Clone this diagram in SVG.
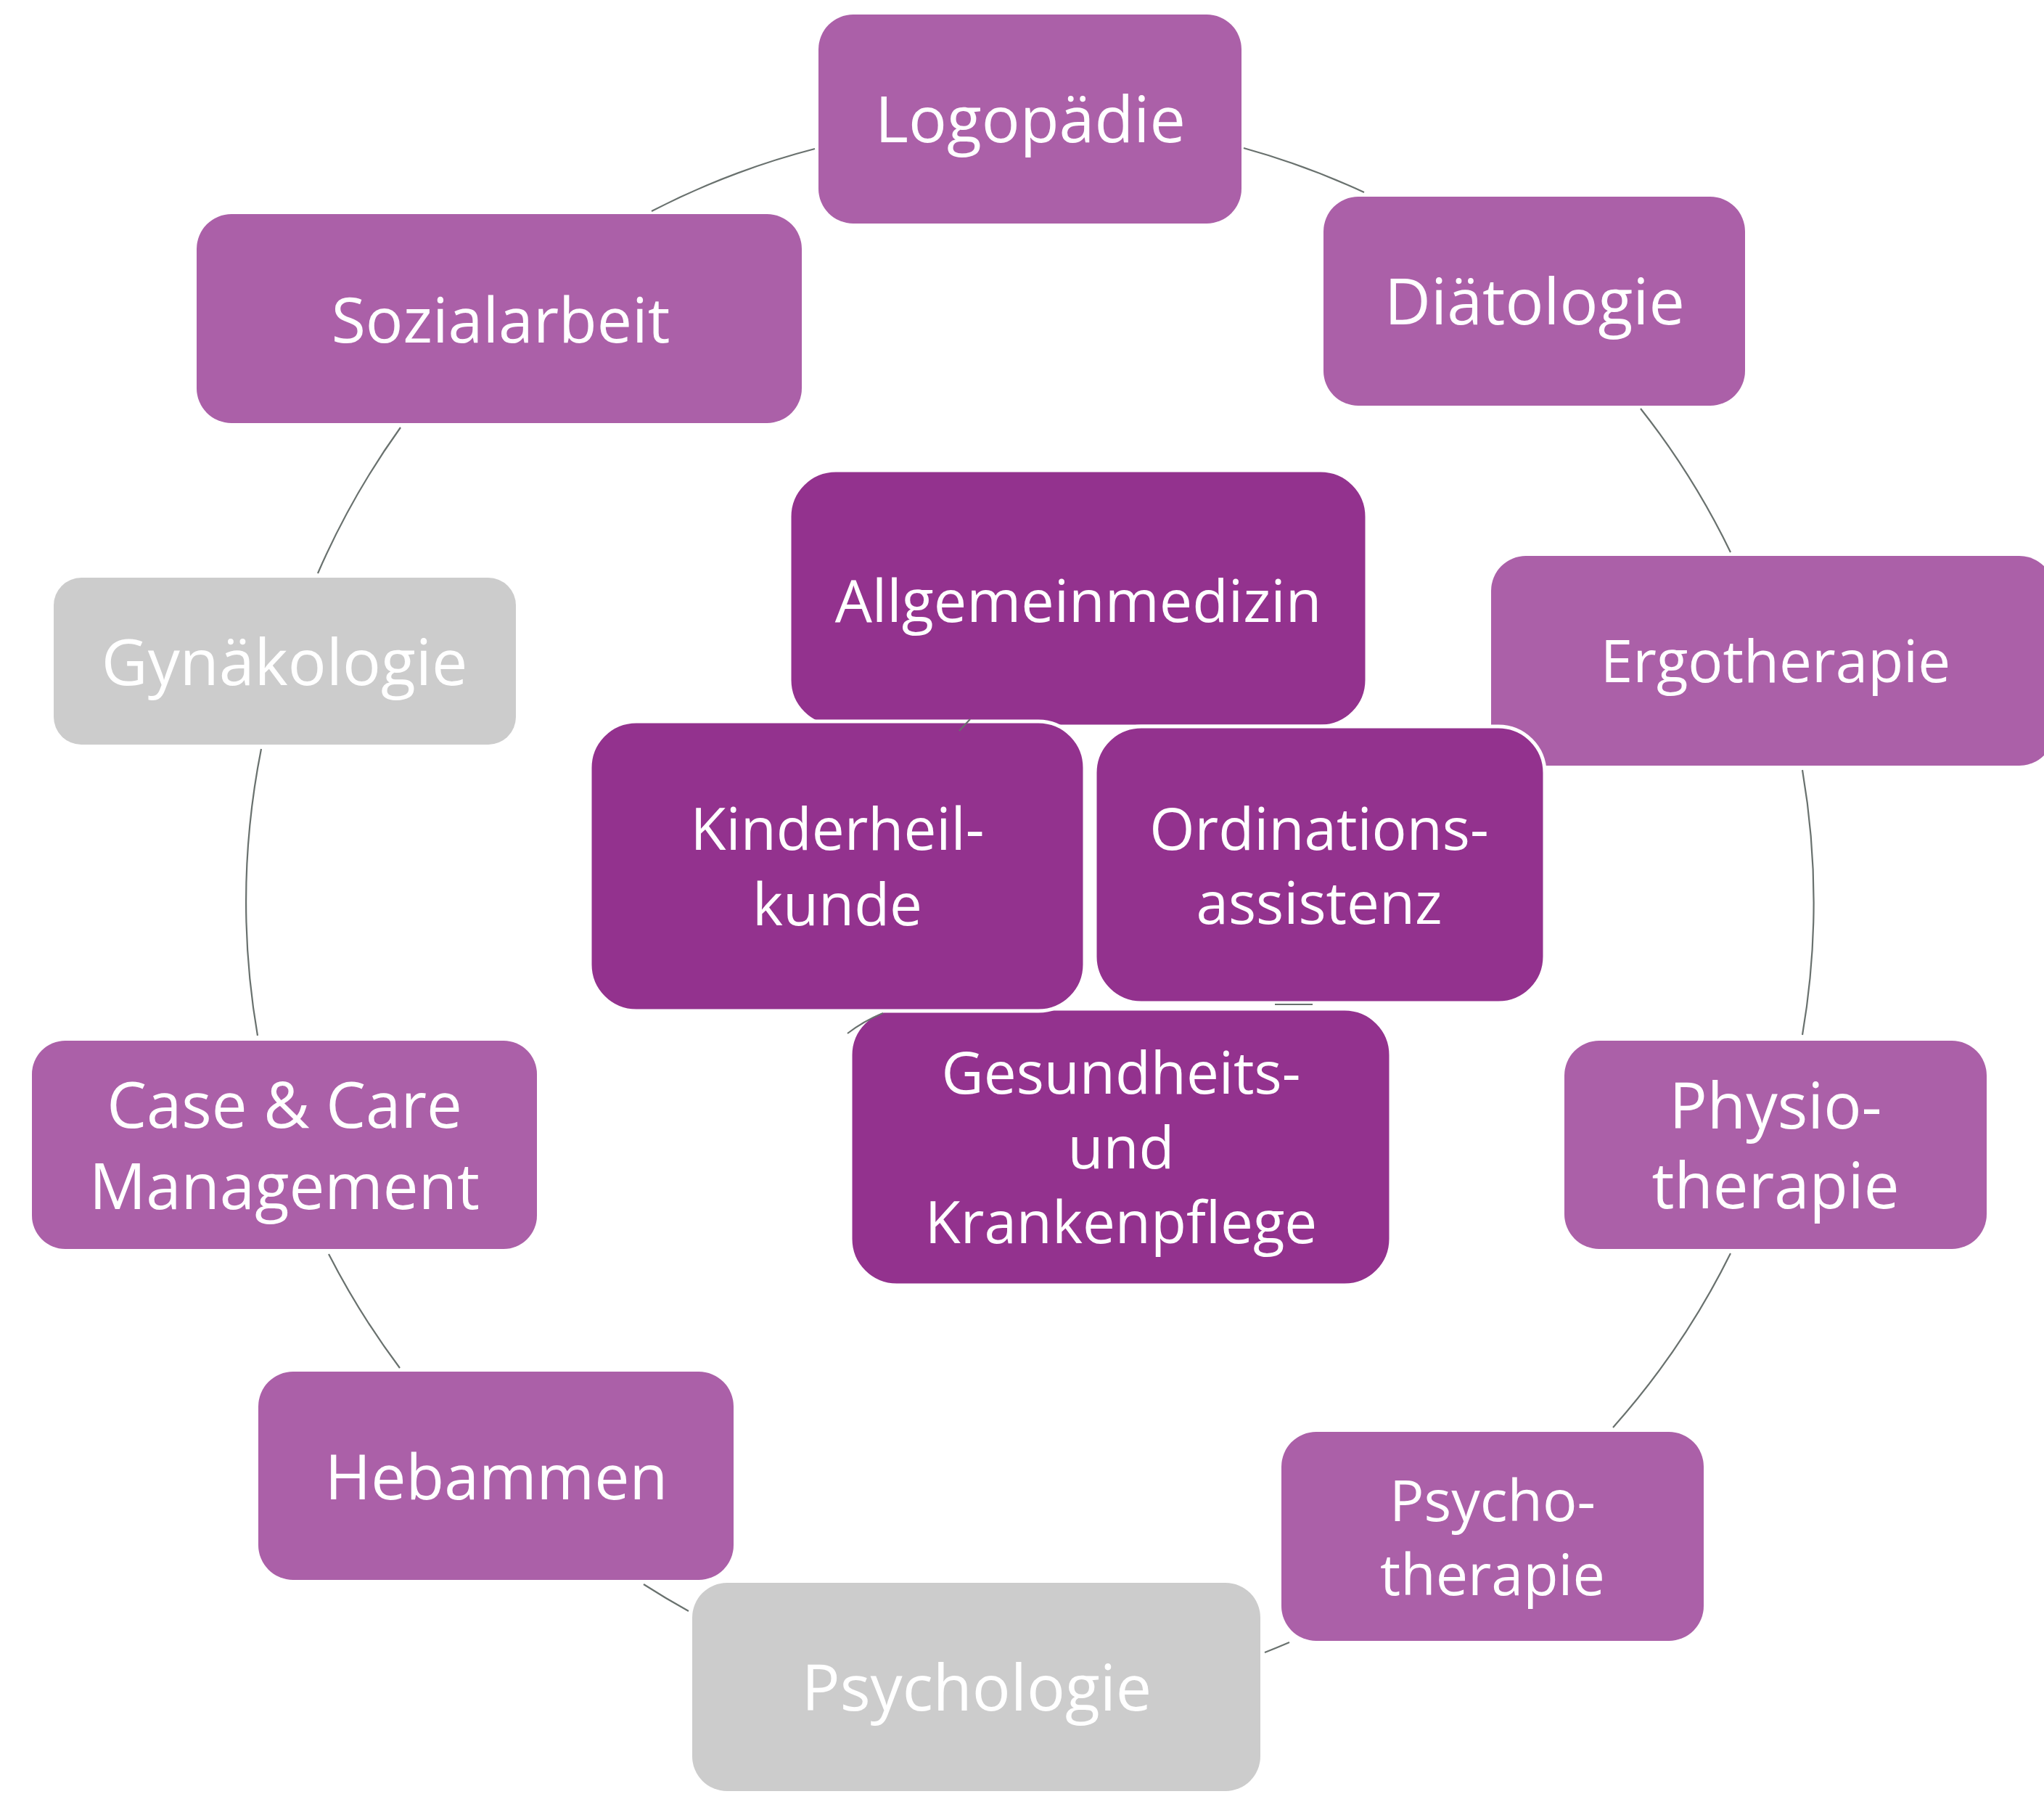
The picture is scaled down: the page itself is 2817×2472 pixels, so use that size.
<svg xmlns="http://www.w3.org/2000/svg" width="2817" height="2472" viewBox="0 0 2817 2472">
<style>
.outer{fill:#AB60A8;}
.grey{fill:#CCCCCC;}
.inner{fill:#93328E;stroke:#FFFFFF;stroke-width:5;}
.lbl{font-family:"Open Sans","Noto Sans","Liberation Sans",sans-serif;fill:#FFFFFF;text-anchor:middle;}
.arc{fill:none;stroke:#69716E;stroke-width:2.2;}
</style>
<rect width="2817" height="2472" fill="#FFFFFF"/>
<g id="nodes">
<g id="logopaedie"><rect class="outer" x="1128" y="20" width="583" height="288" rx="48"/><text class="lbl" x="1420" y="196" font-size="88">Logopädie</text></g>
<g id="sozialarbeit"><rect class="outer" x="271" y="295" width="834" height="288" rx="48"/><text class="lbl" x="690" y="472" font-size="86">Sozialarbeit</text></g>
<g id="diaetologie"><rect class="outer" x="1824" y="271" width="581" height="288" rx="48"/><text class="lbl" x="2115" y="447" font-size="88">Diätologie</text></g>
<g id="ergotherapie"><rect class="outer" x="2055" y="766" width="776" height="289" rx="48"/><text class="lbl" x="2447" y="940" font-size="80">Ergotherapie</text></g>
<g id="gynaekologie"><rect class="grey" x="74" y="796" width="637" height="230" rx="38"/><text class="lbl" x="392" y="944" font-size="88">Gynäkologie</text></g>
<g id="case-care"><rect class="outer" x="44" y="1434" width="696" height="287" rx="46"/><text class="lbl" x="392" y="1554" font-size="87">Case &amp; Care</text><text class="lbl" x="392" y="1666" font-size="87">Management</text></g>
<g id="hebammen"><rect class="outer" x="356" y="1890" width="655" height="287" rx="48"/><text class="lbl" x="684" y="2066" font-size="86">Hebammen</text></g>
<g id="psychologie"><rect class="grey" x="954" y="2181" width="783" height="287" rx="48"/><text class="lbl" x="1346" y="2357" font-size="88">Psychologie</text></g>
<g id="psychotherapie"><rect class="outer" x="1766" y="1973" width="582" height="288" rx="48"/><text class="lbl" x="2057" y="2096" font-size="79">Psycho-</text><text class="lbl" x="2057" y="2198" font-size="79">therapie</text></g>
<g id="physiotherapie"><rect class="outer" x="2156" y="1434" width="582" height="287" rx="48"/><text class="lbl" x="2447" y="1555" font-size="87">Physio-</text><text class="lbl" x="2447" y="1665" font-size="87">therapie</text></g>
<g id="allgemeinmedizin"><rect class="inner" x="1088" y="648" width="796" height="353" rx="64" stroke="none"/><text class="lbl" x="1486" y="857" font-size="81">Allgemeinmedizin</text></g>
<g id="gesundheits-krankenpflege"><rect class="inner" x="1172" y="1390" width="745" height="381" rx="64"/><text class="lbl" x="1545" y="1507" font-size="80">Gesundheits-</text><text class="lbl" x="1545" y="1610" font-size="80">und</text><text class="lbl" x="1545" y="1713" font-size="80">Krankenpflege</text></g>
<g id="kinderheilkunde"><rect class="inner" x="813" y="994" width="682" height="399" rx="64"/><text class="lbl" x="1154" y="1171" font-size="80">Kinderheil-</text><text class="lbl" x="1154" y="1275" font-size="80">kunde</text></g>
<g id="ordinationsassistenz"><rect class="inner" x="1509" y="1001" width="620" height="381" rx="64"/><text class="lbl" x="1818" y="1171" font-size="80">Ordinations-</text><text class="lbl" x="1818" y="1273" font-size="80">assistenz</text></g>
</g>
<g id="connectors">
<path class="arc" d="M1714 204 A1082 1082 0 0 1 1880 265"/>
<path class="arc" d="M2261 563 A1082 1082 0 0 1 2385 761"/>
<path class="arc" d="M2484 1061 A1082 1082 0 0 1 2484 1426"/>
<path class="arc" d="M2385 1727 A1082 1082 0 0 1 2223 1967"/>
<path class="arc" d="M1777 2263 A1082 1082 0 0 1 1743 2277"/>
<path class="arc" d="M949 2220 A1082 1082 0 0 1 887 2183"/>
<path class="arc" d="M551 1885 A1082 1082 0 0 1 453 1728"/>
<path class="arc" d="M355 1427 A1082 1082 0 0 1 360 1032"/>
<path class="arc" d="M438 790 A1082 1082 0 0 1 552 589"/>
<path class="arc" d="M898 291 A1082 1082 0 0 1 1123 205"/>
<path class="arc" d="M1322 1007 L1337 991"/>
<path class="arc" d="M1168 1424 Q1190 1407 1217 1396"/>
<path class="arc" d="M1757 1384 L1809 1384"/>
</g>
</svg>
